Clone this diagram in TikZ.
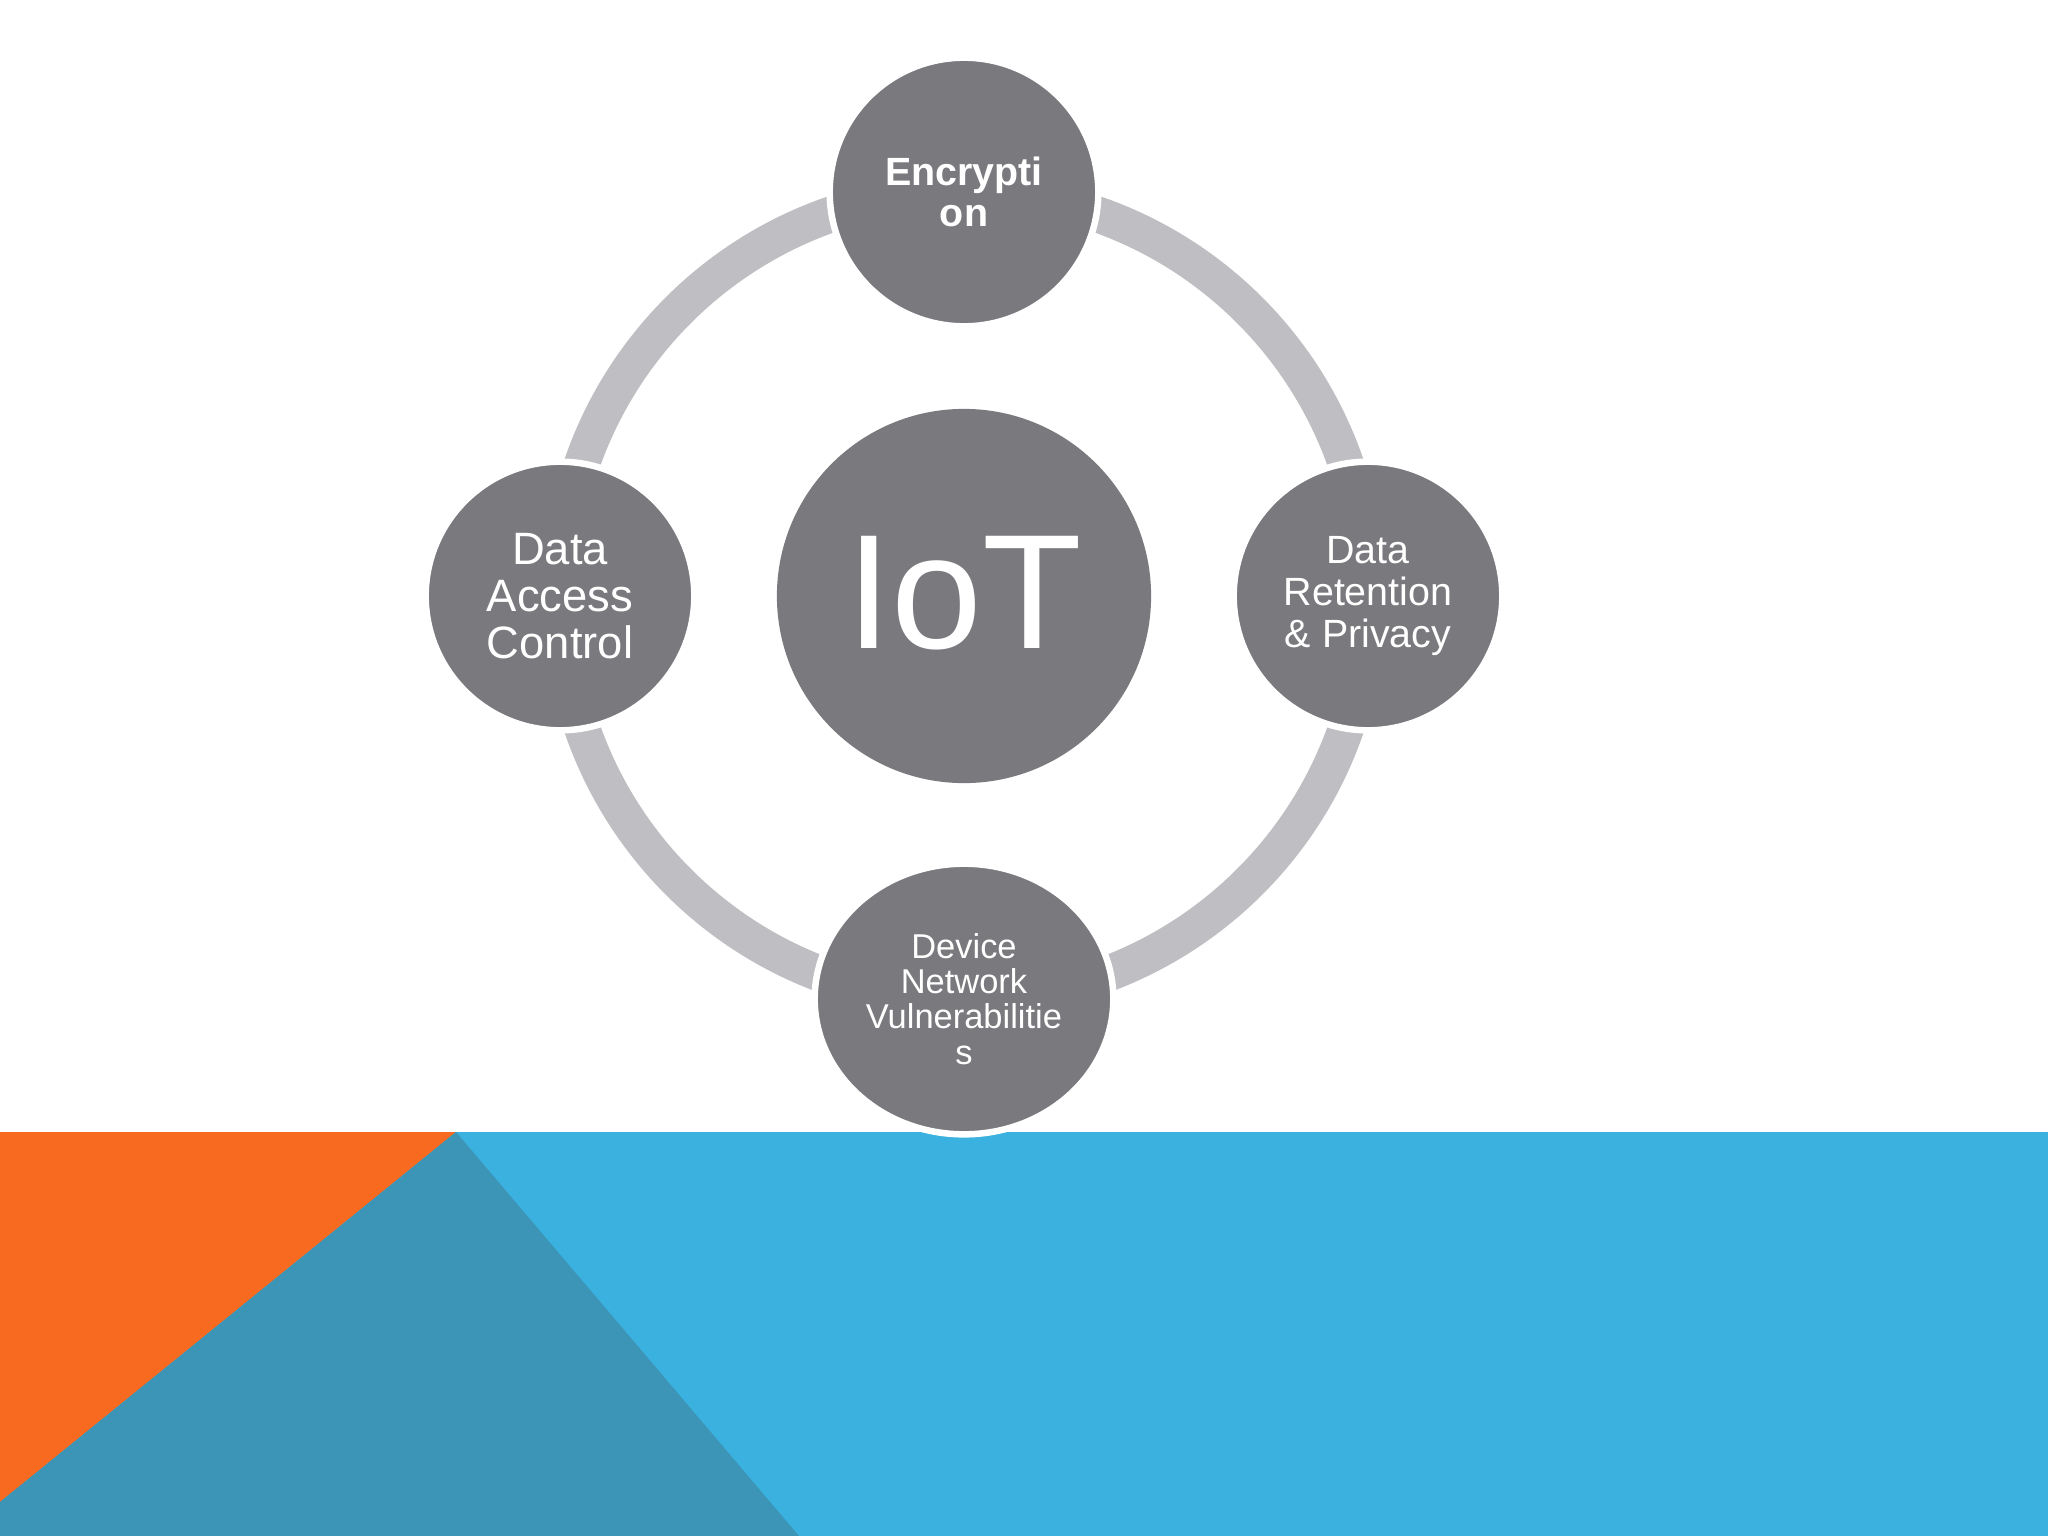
\documentclass[tikz,border=0pt]{standalone}
\usepackage{fontspec}
\setmainfont{Liberation Sans}
\usetikzlibrary{shapes.geometric}
\definecolor{nodegray}{HTML}{7A7A7E}
\definecolor{ringgray}{HTML}{BFBFC3}
\definecolor{bandblue}{HTML}{3BB1DF}
\definecolor{bandteal}{HTML}{3C95B7}
\definecolor{bandorange}{HTML}{F76A1F}
\tikzset{
  topic/.style={circle, fill=nodegray, draw=white, line width=0.065cm, inner sep=0pt,
    minimum size=2.685cm, text=white, align=center},
  hub/.style={circle, fill=nodegray, inner sep=0pt, minimum size=3.74cm, text=white},
  ringarc/.style={draw=ringgray, line width=0.36cm},
}
\begin{document}
\begin{tikzpicture}[x=0.01cm, y=-0.01cm]
\useasboundingbox (0,0) rectangle (2048,1536);
\fill[white] (0,0) rectangle (2048,1536);
% bottom band
\fill[bandblue] (0,1132) rectangle (2048,1536);
\fill[bandorange] (0,1132) -- (456,1132) -- (0,1502) -- cycle;
\fill[bandteal] (456,1132) -- (799,1536) -- (0,1536) -- (0,1502) -- cycle;
% ring centre
\coordinate (ctr) at (964,596);
% connector arcs
\coordinate (pTop) at (964,192);
\coordinate (pLeft) at (560,596);
\coordinate (pRight) at (1368,596);
\coordinate (pBot) at (964,1000);
\draw[ringarc] (pTop) arc[start angle=90, end angle=180, radius=4.04cm];
\draw[ringarc] (pLeft) arc[start angle=180, end angle=270, radius=4.04cm];
\draw[ringarc] (pBot) arc[start angle=270, end angle=360, radius=4.04cm];
\draw[ringarc] (pRight) arc[start angle=0, end angle=90, radius=4.04cm];
% nodes
\node[hub, font={\fontsize{46.4}{50}\selectfont}] (iot) at (ctr) {\raisebox{0.08cm}{IoT}};
\node[topic, font={\fontsize{11.2}{11.6}\selectfont\bfseries}] (enc) at (pTop) {Encrypti\\on};
\node[topic, font={\fontsize{12.9}{13.4}\selectfont}] (dac) at (pLeft) {Data\\Access\\Control};
\node[topic, font={\fontsize{11.2}{12}\selectfont}] (drp) at (pRight) {Data\\Retention\\\& Privacy};
\node[ellipse, fill=nodegray, draw=white, line width=0.065cm, inner sep=0pt,
  minimum width=2.985cm, minimum height=2.705cm, text=white, align=center,
  font={\fontsize{9.8}{10}\selectfont}]
  (dnv) at (964,999) {Device\\Network\\Vulnerabilitie\\s};
\end{tikzpicture}
\end{document}
